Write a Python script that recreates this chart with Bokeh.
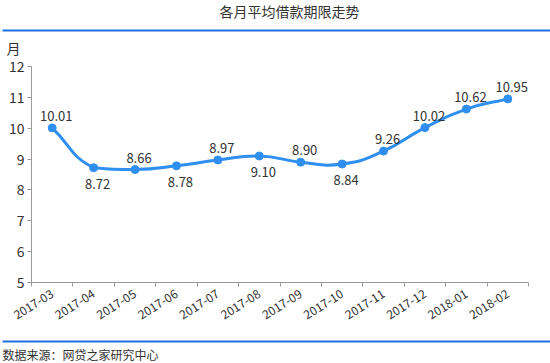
import math
from bokeh.plotting import figure
from bokeh.models import (Range1d, FixedTicker, Label, LabelSet, BoxAnnotation,
                          ColumnDataSource, LinearAxis)
from bokeh.core.properties import value
from bokeh.embed import file_html
from bokeh.resources import INLINE

# ---- data ----
months = ["2017-03", "2017-04", "2017-05", "2017-06", "2017-07", "2017-08",
          "2017-09", "2017-10", "2017-11", "2017-12", "2018-01", "2018-02"]
values = [10.01, 8.72, 8.66, 8.78, 8.97, 9.10, 8.90, 8.84, 9.26, 10.02, 10.62, 10.95]
y_ticks = [5, 6, 7, 8, 9, 10, 11, 12]
title_text = "各月平均借款期限走势"
unit_text = "月"
source_text = "数据来源：网贷之家研究中心"

FONT = "Noto Sans CJK SC"
LINE_COLOR = "#2f8ff0"
BAR_COLOR = "#1f6fdf"
TEXT_COLOR = "#333333"
AXIS_COLOR = "#999999"

W, H = 550, 363
FL, FR, FT, FB = 31, 528, 66, 282  # plot-area edges on the canvas

nx = len(months)
ymin, ymax = min(y_ticks), max(y_ticks)
ux = nx / (FR - FL)            # data units per pixel, x
uy = (ymax - ymin) / (FB - FT)  # data units per pixel, y
x_lo, x_hi = -0.5 - FL * ux, nx - 0.5 + (W - FR) * ux
y_lo, y_hi = ymin - (H - FB) * uy, ymax + FT * uy

p = figure(width=W, height=H, x_range=Range1d(x_lo, x_hi), y_range=Range1d(y_lo, y_hi),
           output_backend="svg", toolbar_location=None,
           x_axis_location=None, y_axis_location=None, min_border=0)
p.outline_line_color = None
p.background_fill_color = "white"
p.border_fill_color = "white"
p.grid.visible = False

xs = list(range(nx))

# x axis: labels at category centres, tick marks at boundaries
xaxis = LinearAxis(fixed_location=ymin, bounds=(-0.5, nx - 0.5),
                   ticker=FixedTicker(ticks=xs, minor_ticks=[i - 0.5 for i in range(nx + 1)]))
xaxis.major_label_overrides = {i: m for i, m in enumerate(months)}
xaxis.major_tick_out = 0
xaxis.major_tick_in = 0
xaxis.minor_tick_out = 4
xaxis.minor_tick_in = 0
xaxis.minor_tick_line_color = AXIS_COLOR
xaxis.axis_line_color = AXIS_COLOR
xaxis.major_label_orientation = math.radians(32)
xaxis.major_label_text_font = FONT
xaxis.major_label_text_font_size = "12px"
xaxis.major_label_text_color = TEXT_COLOR
xaxis.major_label_standoff = 6
p.add_layout(xaxis, "below")

yaxis = LinearAxis(fixed_location=-0.5, bounds=(ymin, ymax), ticker=FixedTicker(ticks=y_ticks))
yaxis.minor_tick_out = 0
yaxis.minor_tick_in = 0
yaxis.major_tick_out = 4
yaxis.major_tick_in = 0
yaxis.major_tick_line_color = AXIS_COLOR
yaxis.axis_line_color = AXIS_COLOR
yaxis.major_label_text_font = FONT
yaxis.major_label_text_font_size = "14px"
yaxis.major_label_text_color = TEXT_COLOR
yaxis.major_label_standoff = 3
p.add_layout(yaxis, "left")

# smooth curve (control points derived from the data, echarts-like smoothing)
n = len(values)
vmin, vmax = min(values), max(values)


def ctrl(i, smooth=0.5):
    pr = max(i - 1, 0)
    nt = min(i + 1, n - 1)
    vx = xs[nt] - xs[pr]
    vy = values[nt] - values[pr]
    d0 = math.hypot((xs[i] - xs[pr]) / ux, (values[i] - values[pr]) / uy)
    d1 = math.hypot((xs[nt] - xs[i]) / ux, (values[nt] - values[i]) / uy)
    tot = d0 + d1
    r0, r1 = d0 / tot, d1 / tot
    clamp = lambda v: min(max(v, vmin), vmax)
    cp_prev = (xs[i] - vx * smooth * r0, clamp(values[i] - vy * smooth * r0))
    cp_next = (xs[i] + vx * smooth * r1, clamp(values[i] + vy * smooth * r1))
    return cp_prev, cp_next


cps = [ctrl(i) for i in range(n)]
bez = ColumnDataSource(dict(
    x0=xs[:-1], y0=values[:-1], x1=xs[1:], y1=values[1:],
    cx0=[cps[i][1][0] for i in range(n - 1)], cy0=[cps[i][1][1] for i in range(n - 1)],
    cx1=[cps[i + 1][0][0] for i in range(n - 1)], cy1=[cps[i + 1][0][1] for i in range(n - 1)],
))
p.bezier(x0="x0", y0="y0", x1="x1", y1="y1", cx0="cx0", cy0="cy0", cx1="cx1", cy1="cy1",
         source=bez, line_color=LINE_COLOR, line_width=3)
p.scatter(xs, values, size=8, fill_color=LINE_COLOR, line_color=LINE_COLOR)

# value labels
below = [i % 2 == 1 and i < 8 for i in range(n)]
lab = ColumnDataSource(dict(
    x=xs, y=values, text=["%.2f" % v for v in values],
    yo=[-16 if b else 12 for b in below],
))
p.add_layout(LabelSet(x="x", y="y", text="text", source=lab, y_offset="yo", x_offset=4,
                      text_align="center", text_baseline="middle",
                      text_font=value(FONT), text_font_size="13px", text_color=TEXT_COLOR))

# title, unit, source (canvas units, measured from the top-left)
p.add_layout(Label(x=289, y=10, x_units="canvas", y_units="canvas", text=title_text,
                   text_align="center", text_baseline="middle", text_font=FONT,
                   text_font_size="14px", text_color=TEXT_COLOR))
p.add_layout(Label(x=13, y=47, x_units="canvas", y_units="canvas", text=unit_text,
                   text_align="center", text_baseline="middle", text_font=FONT,
                   text_font_size="14px", text_color=TEXT_COLOR))
p.add_layout(Label(x=2, y=354, x_units="canvas", y_units="canvas", text=source_text,
                   text_align="left", text_baseline="middle", text_font=FONT,
                   text_font_size="12px", text_color=TEXT_COLOR))

# blue rules
for yc in (30, 341):
    p.add_layout(BoxAnnotation(left=2, right=W, top=yc - 1, bottom=yc + 1,
                               left_units="canvas", right_units="canvas",
                               top_units="canvas", bottom_units="canvas",
                               fill_color=BAR_COLOR, fill_alpha=1, line_color=None))

open("out.html", "w").write(file_html(p, INLINE))
